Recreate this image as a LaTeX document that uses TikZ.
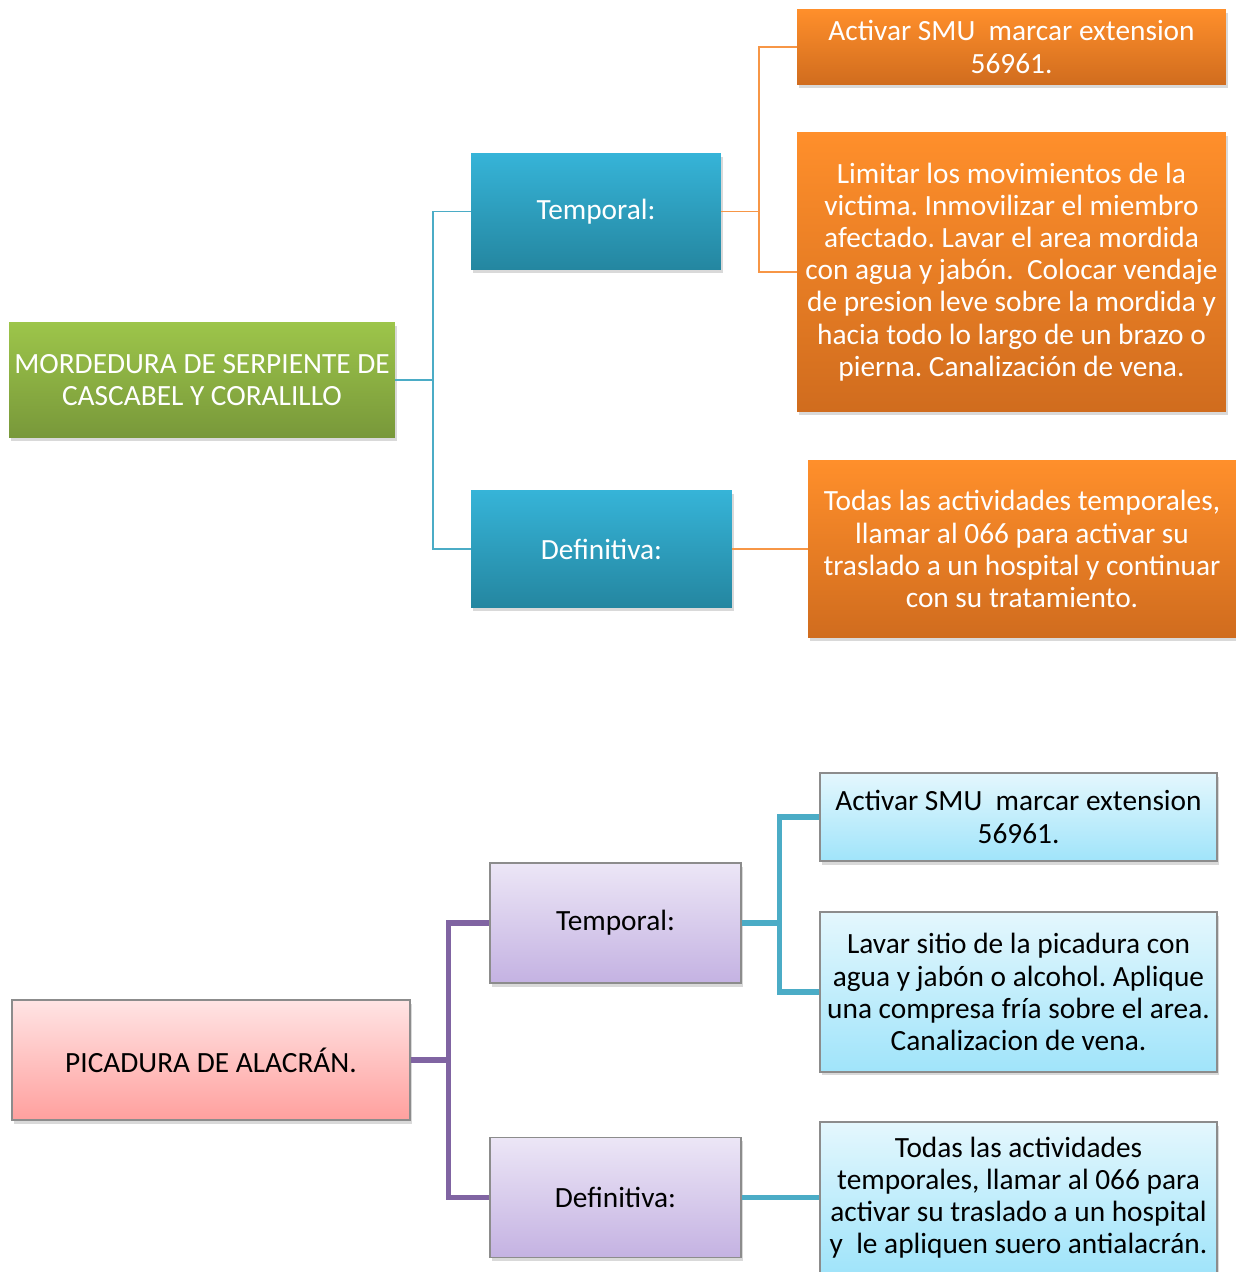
\documentclass[tikz,border=0pt]{standalone}
\usepackage{fontspec}
\setmainfont{Carlito}
\usetikzlibrary{shadows}
\usepackage{xcolor}
\definecolor{greentop}{RGB}{157,197,74}
\definecolor{greenbot}{RGB}{120,152,58}
\definecolor{bluetop}{RGB}{54,180,216}
\definecolor{bluebot}{RGB}{36,134,160}
\definecolor{orangetop}{RGB}{255,143,43}
\definecolor{orangebot}{RGB}{208,108,30}
\definecolor{pinktop}{RGB}{255,228,228}
\definecolor{pinkbot}{RGB}{255,160,158}
\definecolor{lilactop}{RGB}{236,230,246}
\definecolor{lilacbot}{RGB}{196,178,226}
\definecolor{skytop}{RGB}{228,247,253}
\definecolor{skybot}{RGB}{160,228,250}
\definecolor{accblue}{RGB}{75,172,198}
\definecolor{accorange}{RGB}{247,150,70}
\definecolor{accpurple}{RGB}{128,100,162}
\definecolor{boxgray}{RGB}{140,140,140}
\frenchspacing

\begin{document}
\begin{tikzpicture}[x=0.02cm, y=-0.02cm,
    font=\fontsize{16.7}{18.3}\selectfont,
    boxshadow/.style={drop shadow={shadow xshift=0.04cm, shadow yshift=-0.07cm, opacity=0.3}},
    rootbox/.style={rectangle, boxshadow, top color=greentop, bottom color=greenbot, text=white, align=center, inner sep=0pt},
    catbox/.style={rectangle, boxshadow, top color=bluetop, bottom color=bluebot, text=white, align=center, inner sep=0pt},
    infobox/.style={rectangle, boxshadow, top color=orangetop, bottom color=orangebot, text=white, align=center, inner sep=0pt},
    rootbox2/.style={rectangle, boxshadow, draw=boxgray, line width=0.9pt, top color=pinktop, bottom color=pinkbot, align=center, inner sep=0pt},
    catbox2/.style={rectangle, boxshadow, draw=boxgray, line width=0.9pt, top color=lilactop, bottom color=lilacbot, align=center, inner sep=0pt},
    infobox2/.style={rectangle, boxshadow, draw=boxgray, line width=0.9pt, top color=skytop, bottom color=skybot, align=center, inner sep=0pt},
    thinline/.style={line width=1.1pt},
    thickline/.style={line width=3pt}
]
\useasboundingbox (0,0) rectangle (1236,1272);

% Serpiente
\node[rootbox, minimum width=7.72cm, minimum height=2.32cm] (snake) at (202,380) {MORDEDURA DE SERPIENTE DE\\CASCABEL Y CORALILLO};

% Temporal / Definitiva
\node[catbox, minimum width=5cm, minimum height=2.34cm] (snaketemp) at (596,211.5) {Temporal:};
\node[catbox, minimum width=5.22cm, minimum height=2.36cm] (snakedef) at (601.5,549) {Definitiva:};

% Acciones
\node[infobox, minimum width=8.58cm, minimum height=1.52cm] (snakesmu) at (1011.5,47) {Activar SMU\ \ marcar extension\\56961.};
\node[infobox, minimum width=8.58cm, minimum height=5.6cm] (snakecare) at (1011.5,272) {Limitar los movimientos de la\\victima. Inmovilizar el miembro\\afectado. Lavar el area mordida\\con agua y jabón.\ \ Colocar vendaje\\de presion leve sobre la mordida y\\hacia todo lo largo de un brazo o\\pierna. Canalización de vena.};
\node[infobox, minimum width=8.56cm, minimum height=3.54cm] (snakehosp) at (1022,549) {Todas las actividades temporales,\\llamar al 066 para activar su\\traslado a un hospital y continuar\\con su tratamiento.};

% Alacran
\node[rootbox2, minimum width=7.96cm, minimum height=2.4cm] (scorp) at (211,1060) {PICADURA DE ALACRÁN.};

\node[catbox2, minimum width=5.02cm, minimum height=2.4cm] (scorptemp) at (615.5,923) {Temporal:};
\node[catbox2, minimum width=5.02cm, minimum height=2.4cm] (scorpdef) at (615.5,1197.5) {Definitiva:};

\node[infobox2, minimum width=7.94cm, minimum height=1.76cm] (scorpsmu) at (1018.5,817) {Activar SMU\ \ marcar extension\\56961.};
\node[infobox2, minimum width=7.94cm, minimum height=3.2cm] (scorpcare) at (1018.5,992) {Lavar sitio de la picadura con\\agua y jabón o alcohol. Aplique\\una compresa fría sobre el area.\\Canalizacion de vena.};
\node[infobox2, minimum width=7.94cm, minimum height=3.01cm] (scorphosp) at (1018.5,1197.5) {Todas las actividades\\temporales, llamar al 066 para\\activar su traslado a un hospital\\y\ \ le apliquen suero antialacrán.};

% Connectors
\draw[thinline, accblue] (snake.east) -- ++(38,0) |- (snaketemp.west);
\draw[thinline, accblue] (snake.east) -- ++(38,0) |- (snakedef.west);
\draw[thinline, accorange] (snaketemp.east) -- ++(38,0) |- (snakesmu.west);
\draw[thinline, accorange] (snaketemp.east) -- ++(38,0) |- (snakecare.west);
\draw[thinline, accorange] (snakedef.east) -- (snakehosp.west);

\draw[thickline, accpurple] (scorp.east) -- ++(38,0) |- (scorptemp.west);
\draw[thickline, accpurple] (scorp.east) -- ++(38,0) |- (scorpdef.west);
\draw[thickline, accblue] (scorptemp.east) -- ++(38,0) |- (scorpsmu.west);
\draw[thickline, accblue] (scorptemp.east) -- ++(38,0) |- (scorpcare.west);
\draw[thickline, accblue] (scorpdef.east) -- (scorphosp.west);

\end{tikzpicture}
\end{document}
